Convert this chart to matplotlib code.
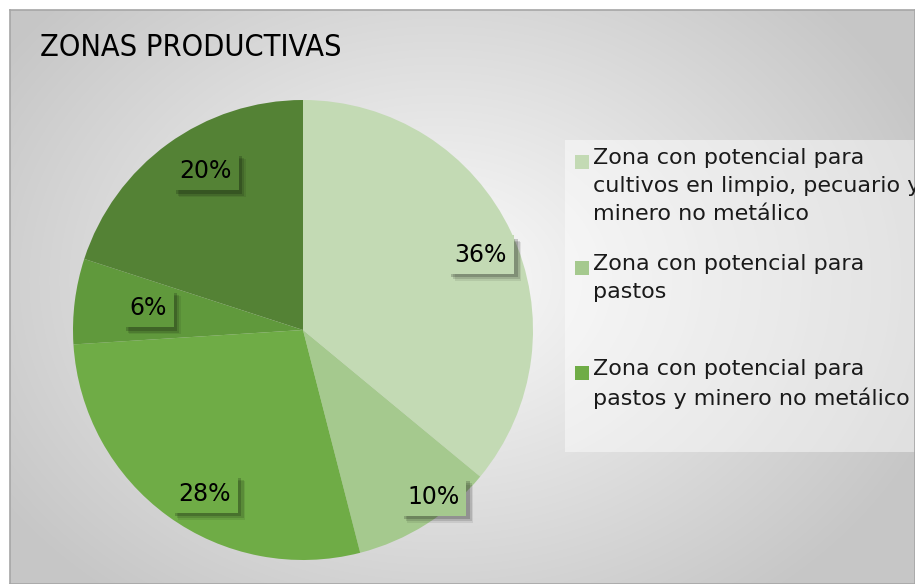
import numpy as np
import matplotlib
matplotlib.use("Agg")
import matplotlib.pyplot as plt
import matplotlib.patheffects as pe
from matplotlib.patches import Rectangle

# datos de zonas productivas (porcentajes, sentido horario desde arriba)
porcentajes = [36, 10, 28, 6, 20]
colores = ["#c3dab4", "#a5c98e", "#6fac46", "#60993c", "#548235"]
etiquetas = [
    "Zona con potencial para\ncultivos en limpio, pecuario y\nminero no metálico",
    "Zona con potencial para\npastos",
    "Zona con potencial para\npastos y minero no metálico",
]
# posicion de cada etiqueta: distancia (fraccion del radio) y angulo desde arriba
dist_etiq = [0.84, 0.92, 0.83, 0.68, 0.81]
ang_etiq = [67, 142, 211, 278, 328.5]

W, H = 915, 584
fig = plt.figure(figsize=(W / 100, H / 100), dpi=100)
fig.patch.set_facecolor("white")

# fondo del grafico con degradado radial
bg = fig.add_axes([10 / W, 0, 1 - 10 / W, 1 - 10 / H])
yy, xx = np.mgrid[0:574, 0:905]
d = np.sqrt(((xx - 430) / 560.0) ** 2 + ((yy - 270) / 430.0) ** 2)
gris = np.clip(0.985 - 0.22 * d, 0.78, 1.0)
bg.imshow(np.dstack([gris, gris, gris]), aspect="auto", extent=[0, 905, 574, 0])
bg.set_xlim(0, 905)
bg.set_ylim(574, 0)
bg.set_xticks([])
bg.set_yticks([])
for s in bg.spines.values():
    s.set_color("#a6a6a6")
    s.set_linewidth(1.2)

# panel de la leyenda
bg.add_patch(Rectangle((555, 130), 360, 312, facecolor="white", alpha=0.45, edgecolor="none"))

fig.text(40 / W, 1 - 47 / H, "ZONAS PRODUCTIVAS", fontsize=22, va="center", ha="left",
         family="DejaVu Sans", fontstretch="condensed", color="black")

# pastel
ax = fig.add_axes([73 / W, 1 - 560 / H, 460 / W, 460 / H])
wedges, _ = ax.pie(porcentajes, colors=colores, startangle=90, counterclock=False,
                   radius=1.0, wedgeprops=dict(linewidth=0))
ax.set_xlim(-1, 1)
ax.set_ylim(-1, 1)
ax.set_aspect("auto")
ax.axis("off")

for p, c, r, a in zip(porcentajes, colores, dist_etiq, ang_etiq):
    ang = np.deg2rad(90 - a)
    t = ax.text(r * np.cos(ang), r * np.sin(ang), f"{p}%", ha="center", va="center",
                fontsize=17, color="black", family="DejaVu Sans",
                bbox=dict(boxstyle="square,pad=0.3", facecolor=c, edgecolor="none"))
    t.get_bbox_patch().set_path_effects([
        pe.SimplePatchShadow(offset=(5, -5), shadow_rgbFace="black", alpha=0.08),
        pe.SimplePatchShadow(offset=(4, -4), shadow_rgbFace="black", alpha=0.12),
        pe.SimplePatchShadow(offset=(2.5, -2.5), shadow_rgbFace="black", alpha=0.18),
        pe.Normal()])

# leyenda manual
lineas_y = [162, 268, 373]
for lab, c, y0 in zip(etiquetas, colores, lineas_y):
    fig.patches.append(Rectangle((575 / W, 1 - (y0 + 7) / H), 14 / W, 14 / H,
                                 facecolor=c, edgecolor="none",
                                 transform=fig.transFigure, figure=fig))
    fig.text(593 / W, 1 - (y0 - 14) / H, lab, fontsize=16, va="top", ha="left",
             linespacing=1.5, color="#1a1a1a", family="DejaVu Sans")

fig.savefig("out.png", dpi=100)
